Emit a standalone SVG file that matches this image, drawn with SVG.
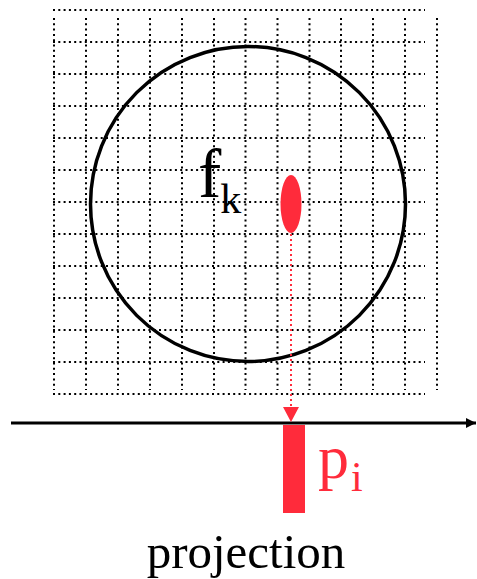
<svg xmlns="http://www.w3.org/2000/svg" width="477" height="579" viewBox="0 0 477 579">
<style>
.grid line{stroke:#000;stroke-width:2;stroke-dasharray:2 3.3}
.red{fill:#ff2b3b}
.serif{font-family:"Liberation Serif","Times New Roman",serif}
</style>
<defs>
<marker id="axisHead" viewBox="0 0 10 10" refX="10" refY="5" markerWidth="3.4" markerHeight="4.4" markerUnits="strokeWidth" orient="auto">
<path d="M0,0 L10,5 L0,10 Z" fill="#000"/>
</marker>
</defs>
<rect width="477" height="579" fill="#fff"/>
<g id="grid" class="grid">
<line x1="53" y1="10" x2="425" y2="10"/>
<line x1="53" y1="42" x2="425" y2="42"/>
<line x1="53" y1="74" x2="425" y2="74"/>
<line x1="53" y1="106" x2="425" y2="106"/>
<line x1="53" y1="138" x2="425" y2="138"/>
<line x1="53" y1="170" x2="425" y2="170"/>
<line x1="53" y1="202" x2="425" y2="202"/>
<line x1="53" y1="234" x2="425" y2="234"/>
<line x1="53" y1="266" x2="425" y2="266"/>
<line x1="53" y1="298" x2="425" y2="298"/>
<line x1="53" y1="330" x2="425" y2="330"/>
<line x1="53" y1="362" x2="425" y2="362"/>
<line x1="53" y1="394" x2="425" y2="394"/>
<line x1="54" y1="18" x2="54" y2="390"/>
<line x1="86" y1="18" x2="86" y2="390"/>
<line x1="118" y1="18" x2="118" y2="390"/>
<line x1="150" y1="18" x2="150" y2="390"/>
<line x1="182" y1="18" x2="182" y2="390"/>
<line x1="214" y1="18" x2="214" y2="390"/>
<line x1="245.5" y1="18" x2="245.5" y2="390"/>
<line x1="277.5" y1="18" x2="277.5" y2="390"/>
<line x1="309.5" y1="18" x2="309.5" y2="390"/>
<line x1="341" y1="18" x2="341" y2="390"/>
<line x1="373" y1="18" x2="373" y2="390"/>
<line x1="405" y1="18" x2="405" y2="390"/>
<line x1="437" y1="18" x2="437" y2="390"/>
</g>
<g id="circle">
<circle cx="248" cy="204" r="157.5" fill="none" stroke="#000" stroke-width="3.5"/>
<text class="serif" x="198" y="197" font-size="70">f<tspan dx="-1" dy="16" font-size="42">k</tspan></text>
</g>
<g id="point">
<ellipse class="red" cx="291" cy="204" rx="10.5" ry="29"/>
</g>
<g id="connectors">
<line x1="11" y1="423" x2="476" y2="423" stroke="#000" stroke-width="3" marker-end="url(#axisHead)"/>
<line x1="291" y1="234" x2="291" y2="408" stroke="#ff2b3b" stroke-width="2" stroke-dasharray="2 3"/>
<path class="red" d="M283,407 L299,407 L291,422 Z"/>
</g>
<g id="bin">
<rect class="red" x="283" y="425" width="22" height="88"/>
<text class="serif" x="318" y="478" font-size="62" fill="#ff2b3b">p<tspan dx="2" dy="13" font-size="42">i</tspan></text>
</g>
<g id="label">
<text class="serif" x="246" y="568" font-size="49" text-anchor="middle">projection</text>
</g>
</svg>
